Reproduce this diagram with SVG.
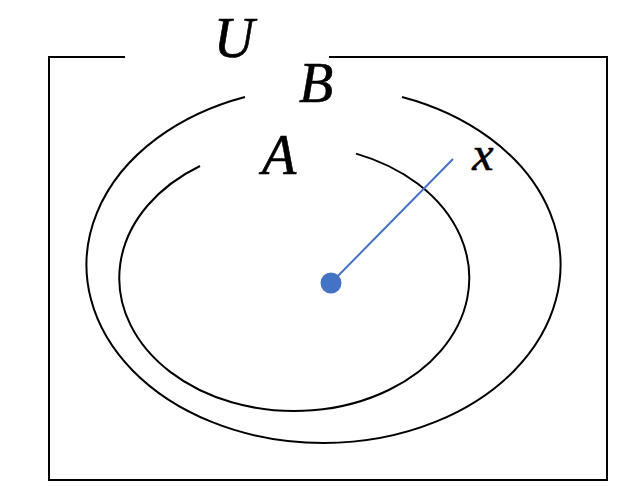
<svg xmlns="http://www.w3.org/2000/svg" width="632" height="502" viewBox="0 0 632 502">
<style>
.stroke{fill:none;stroke:#000;stroke-width:2}
.lbl{font-family:"Liberation Serif","DejaVu Serif",serif;font-style:italic;text-anchor:middle;fill:#000;stroke:#000;stroke-width:0.6}
</style>
<rect width="632" height="502" fill="#fff"/>
<g id="U">
<path class="stroke" d="M125,57 H49 V480 H607 V57 H329"/>
<text class="lbl" x="234" y="57" font-size="56">U</text>
</g>
<g id="B">
<path class="stroke" d="M402,97 A237,178 0 1 1 245,97"/>
<text class="lbl" x="316" y="102" font-size="56">B</text>
</g>
<g id="A">
<path class="stroke" d="M356,153.6 A175,133 0 1 1 200,166"/>
<text class="lbl" x="279" y="174" font-size="56">A</text>
</g>
<g id="connectors">
<line x1="331" y1="283" x2="453" y2="159" stroke="#4472C4" stroke-width="2"/>
</g>
<g id="x">
<circle cx="331" cy="283" r="10.5" fill="#4472C4"/>
<text class="lbl" x="483" y="170" font-size="48">x</text>
</g>
</svg>
